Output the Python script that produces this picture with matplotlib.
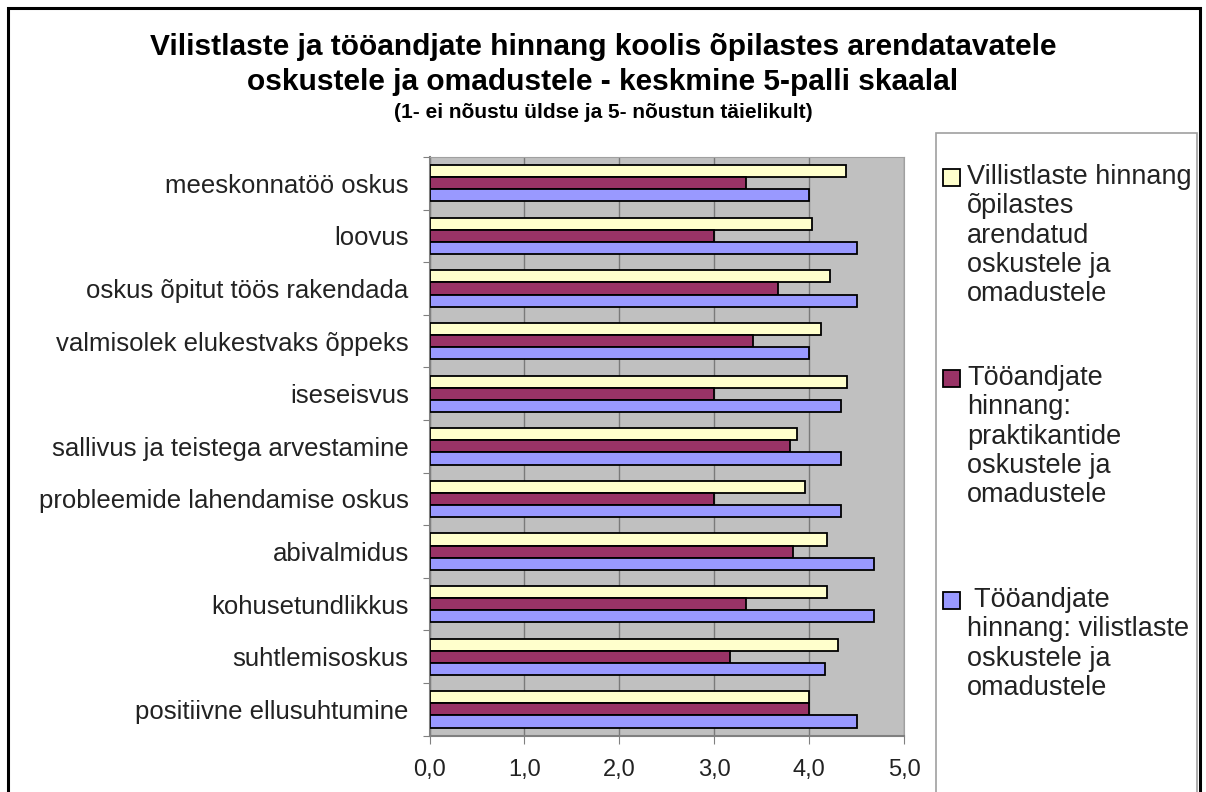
import numpy as np
import matplotlib
matplotlib.use("Agg")
import matplotlib.pyplot as plt
from matplotlib.patches import Rectangle

categories = ["meeskonnatöö oskus", "loovus", "oskus õpitut töös rakendada",
              "valmisolek elukestvaks õppeks", "iseseisvus",
              "sallivus ja teistega arvestamine", "probleemide lahendamise oskus",
              "abivalmidus", "kohusetundlikkus", "suhtlemisoskus",
              "positiivne ellusuhtumine"]
vilistlased = [4.39, 4.03, 4.22, 4.13, 4.40, 3.87, 3.96, 4.19, 4.19, 4.30, 4.00]
praktikandid = [3.33, 3.00, 3.67, 3.41, 3.00, 3.80, 3.00, 3.83, 3.33, 3.17, 4.00]
toovilistlased = [4.00, 4.51, 4.51, 4.00, 4.34, 4.34, 4.34, 4.68, 4.68, 4.17, 4.50]
x_ticks = [0, 1, 2, 3, 4, 5]
x_labels = ["0,0", "1,0", "2,0", "3,0", "4,0", "5,0"]
legend_labels = [["Villistlaste hinnang", "õpilastes", "arendatud", "oskustele ja", "omadustele"],
                 ["Tööandjate", "hinnang:", "praktikantide", "oskustele ja", "omadustele"],
                 [" Tööandjate", "hinnang: vilistlaste", "oskustele ja", "omadustele"]]
colors = ["#FFFFCC", "#993366", "#9999FF"]

plt.rcParams["font.family"] = ["Liberation Sans", "DejaVu Sans"]

W, H = 1206, 792
fig = plt.figure(figsize=(W / 100, H / 100), dpi=100)

def fx(px):
    return px / W

def fy(py):
    return 1 - py / H

# outer frame (bottom edge falls outside the picture)
fig.patches.append(Rectangle((fx(8), fy(800)), fx(1192), 792 / H,
                             transform=fig.transFigure, fill=False,
                             edgecolor="black", linewidth=2.2))

ax = fig.add_axes([fx(429.5), fy(735.7), fx(904 - 429.5), (735.7 - 157) / H])
ax.set_facecolor("#C0C0C0")

y = np.arange(len(categories))
h = 0.23
for i, (vals, c) in enumerate(zip([vilistlased, praktikandid, toovilistlased], colors)):
    ax.barh(y + (i - 1) * h, vals, height=h, color=c, edgecolor="black", linewidth=1.3, zorder=3)

ax.set_xlim(0, 5)
ax.set_ylim(len(categories) - 0.5, -0.5)
ax.set_xticks(x_ticks)
ax.set_xticklabels(x_labels, fontsize=17, color="#222222")
ax.tick_params(axis="x", length=6, color="#808080", pad=11)
ax.grid(axis="x", color="#7a7a7a", linewidth=1.0, zorder=1)

ax.set_yticks(np.arange(len(categories) + 1) - 0.5)
ax.set_yticklabels([])
ax.tick_params(axis="y", which="major", length=5, color="#808080")
ax.set_yticks(y, minor=True)
ax.set_yticklabels(categories, minor=True, fontsize=18.5, color="#222222")
ax.tick_params(axis="y", which="minor", length=0, pad=15)

for s in ["top", "right"]:
    ax.spines[s].set_color("#a0a0a0")
for s in ["left", "bottom"]:
    ax.spines[s].set_color("#808080")
    ax.spines[s].set_linewidth(1.5)

# titles
fig.text(fx(603), fy(47), "Vilistlaste ja tööandjate hinnang koolis õpilastes arendatavatele",
         ha="center", va="center", fontsize=21.5, fontweight="bold")
fig.text(fx(603), fy(82), "oskustele ja omadustele - keskmine 5-palli skaalal",
         ha="center", va="center", fontsize=21.5, fontweight="bold")
fig.text(fx(603), fy(113), "(1- ei nõustu üldse ja 5- nõustun täielikult)",
         ha="center", va="center", fontsize=15, fontweight="bold")

# legend box
fig.patches.append(Rectangle((fx(936), fy(800)), fx(1197 - 936), (800 - 133) / H,
                             transform=fig.transFigure, fill=True, facecolor="white",
                             edgecolor="#a0a0a0", linewidth=1.2))
starts = [177, 378, 600]
for lines, c, ys in zip(legend_labels, colors, starts):
    fig.patches.append(Rectangle((fx(943), fy(ys + 9)), fx(17), 17 / H,
                                 transform=fig.transFigure, facecolor=c,
                                 edgecolor="black", linewidth=1.3))
    for k, line in enumerate(lines):
        fig.text(fx(967), fy(ys + k * 29.3), line, ha="left", va="center",
                 fontsize=19.5, color="#222222")

fig.savefig("out.png", dpi=100)
